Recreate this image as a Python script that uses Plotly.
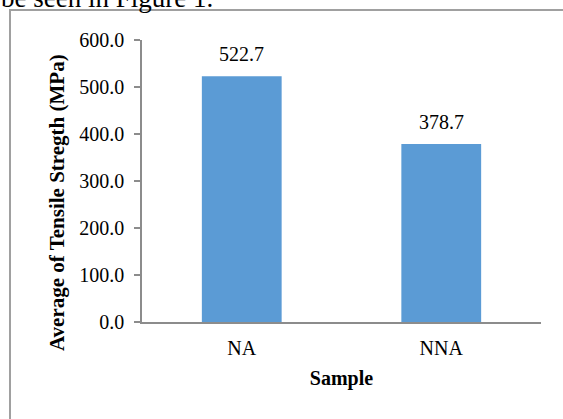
import plotly.graph_objects as go

categories = ["NA", "NNA"]
values = [522.7, 378.7]
value_labels = ["522.7", "378.7"]
y_ticks = [0, 100, 200, 300, 400, 500, 600]
y_tick_labels = ["0.0", "100.0", "200.0", "300.0", "400.0", "500.0", "600.0"]

W, H = 563, 419
L, R, T, B = 142, 22, 40, 97
pw, ph = W - L - R, H - T - B

def px_x(x):
    return (x - L) / pw

def px_y(y):
    return (H - B - y) / ph

font_family = "Liberation Serif, Times New Roman, serif"

fig = go.Figure(go.Bar(
    x=categories, y=values,
    marker=dict(color="#5B9BD5", line=dict(width=0)),
    cliponaxis=False,
))

label_annotations = [
    dict(x=c, y=v, text=t, xref="x", yref="y", xanchor="center", yanchor="bottom",
         yshift=9, showarrow=False, font=dict(family=font_family, size=20, color="black"))
    for c, v, t in zip(categories, values, value_labels)
]

fig.update_layout(
    width=W, height=H,
    margin=dict(l=L, r=R, t=T, b=B, pad=0),
    paper_bgcolor="white", plot_bgcolor="white",
    bargap=0.6,
    showlegend=False,
    font=dict(family=font_family, size=20, color="black"),
    xaxis=dict(
        showline=True, linecolor="#8C8C8C", linewidth=1.5,
        ticks="", showgrid=False, tickfont=dict(size=20),
        title=dict(text="<b>Sample</b>", font=dict(size=20), standoff=13),
        ticklabelstandoff=7,
    ),
    yaxis=dict(
        range=[0, 600], tickvals=y_ticks, ticktext=y_tick_labels,
        showline=True, linecolor="#8C8C8C", linewidth=1.5,
        ticks="outside", ticklen=6, tickcolor="#8C8C8C", tickwidth=1.5,
        showgrid=False, zeroline=False, tickfont=dict(size=20),
        ticklabelstandoff=6,
    ),
    shapes=[dict(
        type="rect", xref="paper", yref="paper",
        x0=px_x(10), x1=px_x(600), y0=px_y(10), y1=px_y(460),
        line=dict(color="#A0A0A0", width=2), fillcolor="rgba(0,0,0,0)", layer="below",
    )],
    annotations=label_annotations + [
        dict(
            text="<b>Average of Tensile Stregth (MPa)</b>", xref="paper", yref="paper",
            x=px_x(57), y=px_y(203), xanchor="center", yanchor="middle", textangle=-90,
            showarrow=False, font=dict(family=font_family, size=21, color="black"),
        ),
        dict(
            text="be seen in Figure 1.", xref="paper", yref="paper",
            x=px_x(-1), y=px_y(15), xanchor="left", yanchor="bottom",
            showarrow=False, font=dict(family=font_family, size=27, color="black"),
        ),
    ],
)

fig.write_html("out.html", config={"displayModeBar": False},
               post_script="document.body.style.margin='0';document.body.style.padding='0';")
